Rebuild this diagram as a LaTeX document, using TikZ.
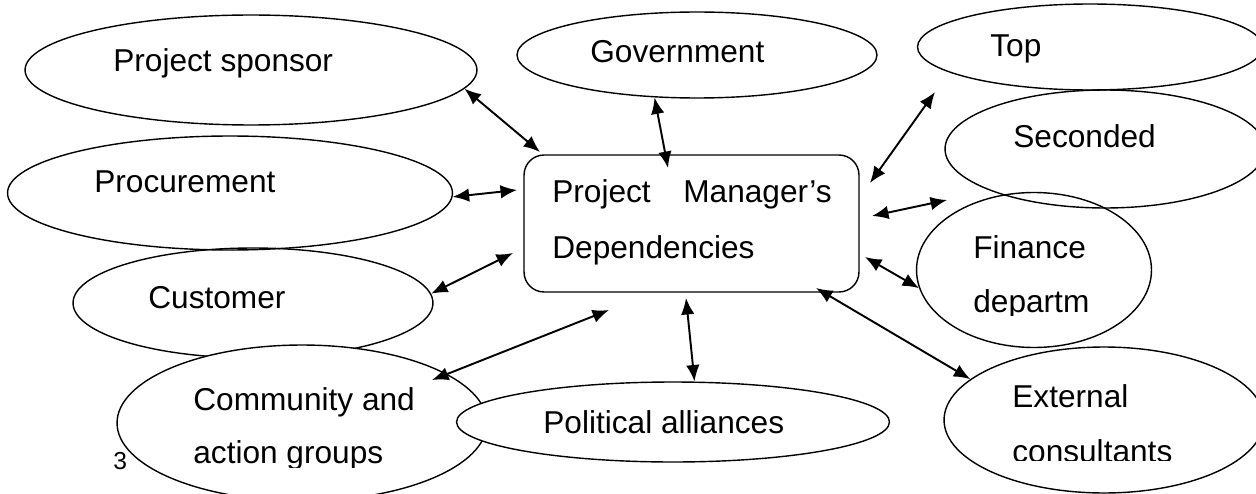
\documentclass[tikz,border=0pt]{standalone}
\usepackage{fontspec}
\setmainfont{Liberation Sans}
\usetikzlibrary{shapes.geometric,arrows.meta}

\tikzset{
	party/.style={shape=ellipse,draw=black,line width=0.8pt,inner sep=0pt},
	hub/.style={shape=rectangle,draw=black,line width=0.8pt,rounded corners=0.4cm,minimum width=6.7cm,minimum height=2.74cm},
	lbl/.style={anchor=base west,inner sep=0pt,font=\fontsize{18}{21}\selectfont},
	dep/.style={{Latex[length=3.3mm,width=2.7mm]}-{Latex[length=3.3mm,width=2.7mm]},line width=1.1pt}
}

\begin{document}
\begin{tikzpicture}[x=0.02cm,y=-0.02cm]
			\useasboundingbox (0,0) rectangle (1256,493);

			\node[party,minimum width=9.04cm,minimum height=2.2cm] (sponsor) at (251,70) {};
			\node[party,minimum width=7.2cm,minimum height=1.72cm] (gov) at (697,55) {};
			\node[party,minimum width=6.9cm,minimum height=1.72cm] (top) at (1090,47) {};
			\node[party,minimum width=8.9cm,minimum height=2.28cm] (procure) at (230,193) {};
			\node[party,minimum width=6.4cm,minimum height=2.36cm] (seconded) at (1105,149) {};
			\node[party,minimum width=7.2cm,minimum height=2.2cm] (customer) at (253,303) {};
			\node[party,minimum width=4.7cm,minimum height=3.1cm] (finance) at (1034,270) {};
			\node[party,fill=white,minimum width=7.4cm,minimum height=3.12cm] (community) at (302,423) {};
			\node[party,fill=white,minimum width=8.66cm,minimum height=1.6cm] (political) at (673,422) {};
			\node[party,minimum width=6.4cm,minimum height=2.92cm] (external) at (1104,420) {};
			\node[hub] (pm) at (691.5,223.5) {};

			\node[lbl] (sponsortxt) at (113,72) {Project sponsor};
			\node[lbl] (govtxt) at (590,63) {Government};
			\node[lbl] (toptxt) at (990,57) {Top};
			\node[lbl] (procuretxt) at (94,193) {Procurement};
			\node[lbl] (secondedtxt) at (1013,148) {Seconded};
			\node[lbl] (customertxt) at (148,308) {Customer};
			\node[lbl] (financetxt) at (973,258) {Finance};
			\node[lbl] (communitytxt) at (193,410) {Community and};
			\node[lbl] (politicaltxt) at (543,433) {Political alliances};
			\node[lbl] (externaltxt) at (1012,407) {External};
			\node[lbl] (pmtxta) at (552,202) {Project};
			\node[lbl,anchor=base east] (pmtxtb) at (832,202) {Manager’s};
			\node[lbl] (pmtxtc) at (552,258) {Dependencies};
			\node[lbl,font=\fontsize{14}{17}\selectfont] (pageno) at (113,469) {3};

			\begin{scope}
				\clip (900,200) rectangle (1200,315);
				\node[lbl] (financetxtb) at (973,312) {departm};
			\end{scope}
			\begin{scope}
				\clip (150,420) rectangle (450,467);
				\node[lbl] (communitytxtb) at (193,463) {action groups};
			\end{scope}
			\begin{scope}
				\clip (950,420) rectangle (1250,460);
				\node[lbl] (externaltxtb) at (1012,462) {consultants};
			\end{scope}

			\coordinate (pm-sp) at (540,152);
			\coordinate (pm-gov) at (668,168);
			\coordinate (pm-pro) at (517,190);
			\coordinate (pm-cus) at (513,253);
			\coordinate (pm-com) at (609,310);
			\coordinate (com-end) at (432,380);
			\coordinate (pm-pol) at (686,298);
			\coordinate (pm-ext) at (816,288);
			\coordinate (pm-top) at (870,183);
			\coordinate (top-end) at (935,92);
			\coordinate (pm-sec) at (872,216);
			\coordinate (sec-end) at (947,200);
			\coordinate (pm-fin) at (865,257);

			\path [dep] (sponsor.-5.6) edge (pm-sp);
			\path [dep] (gov.225.7) edge (pm-gov);
			\path [dep] (procure.-1.3) edge (pm-pro);
			\path [dep] (customer.3.2) edge (pm-cus);
			\path [dep] (com-end) edge (pm-com);
			\path [dep] (political.62.3) edge (pm-pol);
			\path [dep] (external.163.9) edge (pm-ext);
			\path [dep] (top-end) edge (pm-top);
			\path [dep] (sec-end) edge (pm-sec);
			\path [dep] (finance.189.1) edge (pm-fin);
		\end{tikzpicture}
\end{document}
